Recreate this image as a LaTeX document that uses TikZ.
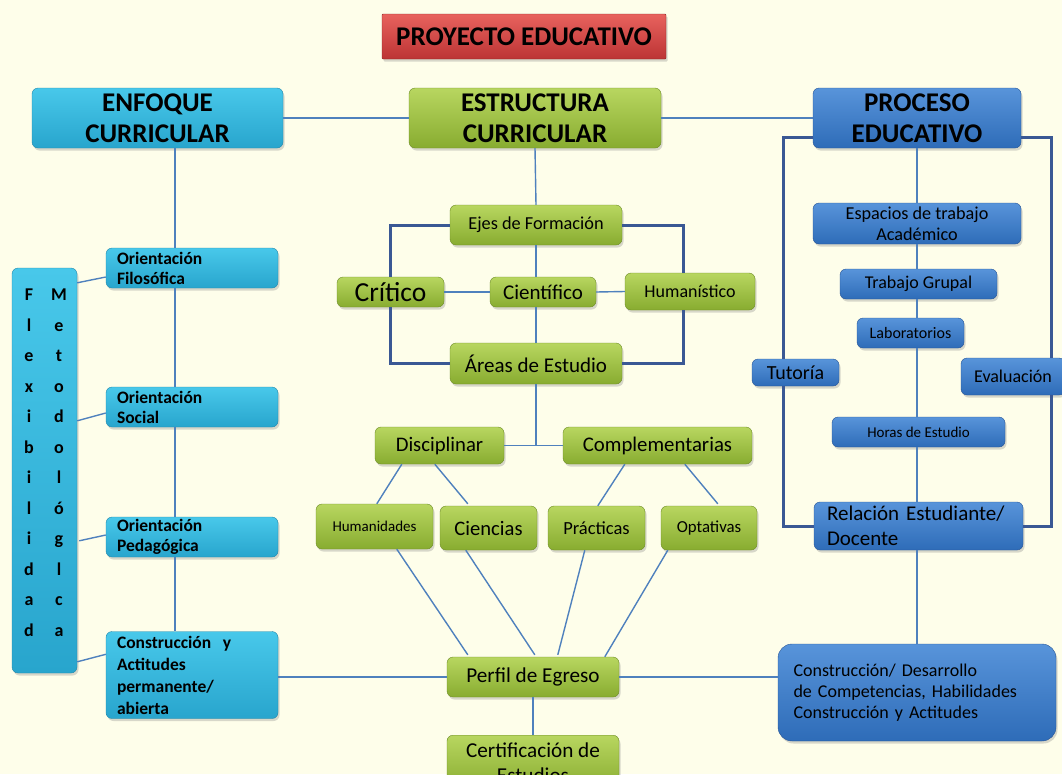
\documentclass[tikz,border=0pt]{standalone}
\usepackage{fontspec}
\setmainfont{Carlito}
\usetikzlibrary{positioning,shadows,calc}
\definecolor{fondo}{RGB}{254,254,234}
\definecolor{cianA}{RGB}{72,200,234}
\definecolor{cianB}{RGB}{40,165,205}
\definecolor{cianC}{RGB}{35,135,170}
\definecolor{verdeA}{RGB}{184,214,96}
\definecolor{verdeB}{RGB}{136,172,48}
\definecolor{verdeC}{RGB}{110,140,40}
\definecolor{azulA}{RGB}{88,148,218}
\definecolor{azulB}{RGB}{46,108,184}
\definecolor{azulC}{RGB}{40,85,150}
\definecolor{rojoA}{RGB}{232,98,94}
\definecolor{rojoB}{RGB}{188,52,52}
\definecolor{rojoC}{RGB}{140,35,35}
\definecolor{linea}{RGB}{79,129,189}
\definecolor{marco}{RGB}{58,88,148}
\tikzset{
  mybox/.style = {rectangle, rounded corners=6pt, align=center, inner sep=2pt,
    drop shadow={opacity=0.3, shadow xshift=1.5pt, shadow yshift=-2.5pt}},
  mycyan/.style = {mybox, draw=cianC, top color=cianA, bottom color=cianB},
  mygreen/.style = {mybox, draw=verdeC, top color=verdeA, bottom color=verdeB},
  myblue/.style = {mybox, draw=azulC, top color=azulA, bottom color=azulB},
  myred/.style = {mybox, rounded corners=1pt, draw=rojoC, top color=rojoA, bottom color=rojoB},
  mythin/.style = {draw=linea, line width=1.4pt},
  mythick/.style = {draw=marco, line width=3pt},
  myhead/.style = {font=\fontsize{27}{31}\selectfont\bfseries},
  myorient/.style = {font=\fontsize{17.5}{20}\selectfont\bfseries, text width=150pt, align=left},
  myletter/.style = {font=\fontsize{18}{20}\selectfont\bfseries, inner sep=0pt, text height=12.5pt, text depth=0pt},
  fs/.style = {font=\fontsize{#1}{#1}\selectfont},
}
\begin{document}
\begin{tikzpicture}[x=1pt,y=-1pt]
\useasboundingbox (0,0) rectangle (1062,774);
\clip (0,0) rectangle (1062,774);
\fill[fondo] (0,0) rectangle (1062,774);
% titulo
\node[myred, font=\fontsize{27}{30}\selectfont\bfseries, minimum width=284pt, minimum height=45pt] (titulo) at (524,36.5) {PROYECTO EDUCATIVO};
% cabeceras
\node[mycyan, myhead, minimum width=251pt, minimum height=60pt] (enfoque) at (157.5,118) {ENFOQUE\\CURRICULAR};
\node[mygreen, myhead, minimum width=252pt, minimum height=60pt] (estructura) at (535,118) {ESTRUCTURA\\CURRICULAR};
\node[myblue, myhead, minimum width=208pt, minimum height=60pt] (proceso) at (917,118) {PROCESO\\EDUCATIVO};
% enfoque curricular
\node[mycyan, myorient, minimum width=172pt, minimum height=40pt] (filosofica) at (192,268) {Orientación\\Filosófica};
\node[mycyan, myorient, minimum width=172pt, minimum height=40pt] (social) at (192,407) {Orientación\\Social};
\node[mycyan, myorient, minimum width=172pt, minimum height=40pt] (pedagogica) at (192,537) {Orientación\\Pedagógica};
\node[mycyan, myorient, font=\fontsize{17.5}{22}\selectfont\bfseries, minimum width=172pt, minimum height=87pt] (construccion) at (192,675) {Construcción\ \ y\\Actitudes\\permanente/\\abierta};
\node[mycyan, minimum width=65pt, minimum height=405pt] (flex) at (44.5,470.5) {};
\foreach \l [count=\i] in {F,l,e,x,i,b,i,l,i,d,a,d}
  \node[myletter] (f\i) at (29,264+30.5*\i) {\l};
\foreach \l [count=\i] in {M,e,t,o,d,o,l,ó,g,l,c,a}
  \node[myletter] (m\i) at (59,264+30.5*\i) {\l};
% estructura curricular
\node[mygreen, fs=18.3, minimum width=172pt, minimum height=40pt] (ejes) at (536,225) {Ejes de Formación};
\node[mygreen, fs=27.5, minimum width=107pt, minimum height=30pt] (critico) at (390.5,292) {Crítico};
\node[mygreen, fs=21, minimum width=106pt, minimum height=30pt] (cientifico) at (543,292) {Científico};
\node[mygreen, fs=18, minimum width=130pt, minimum height=37pt] (humanistico) at (690,291.5) {Humanístico};
\node[mygreen, fs=21, minimum width=172pt, minimum height=41pt] (areas) at (536,363.5) {Áreas de Estudio};
\node[mygreen, fs=20.7, minimum width=129pt, minimum height=37pt] (disciplinar) at (439.5,445.5) {Disciplinar};
\node[mygreen, fs=20.8, minimum width=189pt, minimum height=37pt] (complementarias) at (657.5,445.5) {Complementarias};
\node[mygreen, fs=15, minimum width=117pt, minimum height=45pt] (humanidades) at (374.5,526.5) {Humanidades};
\node[mygreen, fs=20.6, minimum width=97pt, minimum height=44pt] (ciencias) at (488.5,528) {Ciencias};
\node[mygreen, fs=18.5, minimum width=97pt, minimum height=44pt] (practicas) at (596.5,528) {Prácticas};
\node[mygreen, fs=16.8, minimum width=96pt, minimum height=44pt] (optativas) at (709,528) {Optativas};
\node[mygreen, fs=21.2, minimum width=172pt, minimum height=40pt] (perfil) at (533,677) {Perfil de Egreso};
\node[mygreen, font=\fontsize{21.2}{25}\selectfont, minimum width=172pt, minimum height=55pt, inner ysep=1pt, anchor=north] (certificacion) at (533,735) {Certificación de\\Estudios};
% proceso educativo
\node[myblue, font=\fontsize{18.2}{21}\selectfont, minimum width=208pt, minimum height=41pt] (espacios) at (917,223.5) {Espacios de trabajo\\Académico};
\node[myblue, fs=18, minimum width=157pt, minimum height=30pt] (grupal) at (918.5,284) {Trabajo Grupal};
\node[myblue, fs=16, minimum width=107pt, minimum height=30pt] (laboratorios) at (910.5,333) {Laboratorios};
\node[myblue, fs=20, minimum width=87pt, minimum height=27pt] (tutoria) at (795.5,372.5) {Tutoría};
\node[myblue, fs=18, minimum width=104pt, minimum height=37pt] (evaluacion) at (1013,376.5) {Evaluación};
\node[myblue, fs=15, minimum width=173pt, minimum height=30pt] (horas) at (918.5,432) {Horas de Estudio};
\node[myblue, font=\fontsize{21}{25}\selectfont, text width=183pt, align=left, minimum width=209pt, minimum height=48pt] (relacion) at (918.5,526) {Relación Estudiante/\\Docente};
\node[myblue, rounded corners=14pt, font=\fontsize{18}{21}\selectfont, text width=247pt, align=left, minimum width=278pt, minimum height=97pt] (desarrollo) at (917,692.5) {Construcción/ Desarrollo\\de Competencias, Habilidades\\Construcción y Actitudes};
% ejes de referencia
\coordinate (ejeA) at (175,0);
\coordinate (marcoD) at (683,0);
\coordinate (marcoI) at (783,137);
\coordinate (marcoR) at (1051,137);
% conectores
\draw[mythin] (enfoque.east) -- (estructura.west);
\draw[mythin] (estructura.east) -- (proceso.west);
\draw[mythin] (enfoque.south -| ejeA) -- (filosofica.north -| ejeA);
\draw[mythin] (filosofica.south -| ejeA) -- (social.north -| ejeA);
\draw[mythin] (social.south -| ejeA) -- (pedagogica.north -| ejeA);
\draw[mythin] (pedagogica.south -| ejeA) -- (construccion.north -| ejeA);
\draw[mythin] ($(flex.north east)+(0,15)$) -- ($(filosofica.west)+(0,9)$);
\draw[mythin] ($(flex.north east)+(0,153)$) -- ($(social.west)+(0,6)$);
\draw[mythin] ($(flex.north east)+(2,273)$) -- ($(pedagogica.west)+(0,-2)$);
\draw[mythin] ($(flex.north east)+(0,394)$) -- ($(construccion.north west)+(0,23)$);
\draw[mythin] (estructura.south) -- (ejes.north);
\draw[mythin] (ejes.south) -- (ejes.south |- cientifico.north);
\draw[mythin] (ejes.south |- cientifico.south) -- (areas.north);
\draw[mythin] (critico.east) -- (cientifico.west);
\draw[mythin] (cientifico.east) -- (humanistico.west);
\draw[mythick] (ejes.west) -| (critico.north);
\draw[mythick] (critico.south) |- (areas.west);
\draw[mythick] (ejes.east) -| (marcoD |- humanistico.north);
\draw[mythick] (marcoD |- humanistico.south) |- (areas.east);
\draw[mythin] (areas.south) -- (areas.south |- disciplinar.east);
\draw[mythin] (disciplinar.east) -- (complementarias.west);
\draw[mythin] ($(disciplinar.south west)+(27,0)$) -- ($(humanidades.north west)+(61,0)$);
\draw[mythin] ($(disciplinar.south west)+(60,0)$) -- ($(ciencias.north west)+(28,-2)$);
\draw[mythin] ($(complementarias.south west)+(62,0)$) -- ($(practicas.north west)+(50,0)$);
\draw[mythin] ($(complementarias.south west)+(122,0)$) -- ($(optativas.north west)+(57,-2)$);
\draw[mythin] ($(humanidades.south west)+(81,0)$) -- ($(perfil.north west)+(21,-2)$);
\draw[mythin] ($(ciencias.south west)+(26,0)$) -- ($(perfil.north west)+(88,-2)$);
\draw[mythin] ($(practicas.south west)+(37,0)$) -- ($(perfil.north west)+(111,-2)$);
\draw[mythin] ($(optativas.south west)+(7,0)$) -- ($(perfil.north west)+(158,0)$);
\draw[mythin] (construccion.east |- perfil.west) -- (perfil.west);
\draw[mythin] (perfil.east) -- (desarrollo.west |- perfil.east);
\draw[mythin] (perfil.south) -- (certificacion.north);
\draw[mythin] (proceso.south) -- (espacios.north);
\draw[mythin] (espacios.south) -- (espacios.south |- grupal.north);
\draw[mythin] (espacios.south |- grupal.south) -- (espacios.south |- laboratorios.north);
\draw[mythin] (espacios.south |- laboratorios.south) -- (espacios.south |- horas.north);
\draw[mythin] (espacios.south |- horas.south) -- (espacios.south |- relacion.north);
\draw[mythin] (espacios.south |- relacion.south) -- (espacios.south |- desarrollo.north);
\draw[mythick] (proceso.west |- marcoI) -| (tutoria.north -| marcoI);
\draw[mythick] (tutoria.south -| marcoI) |- (relacion.west);
\draw[mythick] (proceso.east |- marcoR) -| (evaluacion.north -| marcoR);
\draw[mythick] (evaluacion.south -| marcoR) |- (relacion.east);
\end{tikzpicture}
\end{document}
